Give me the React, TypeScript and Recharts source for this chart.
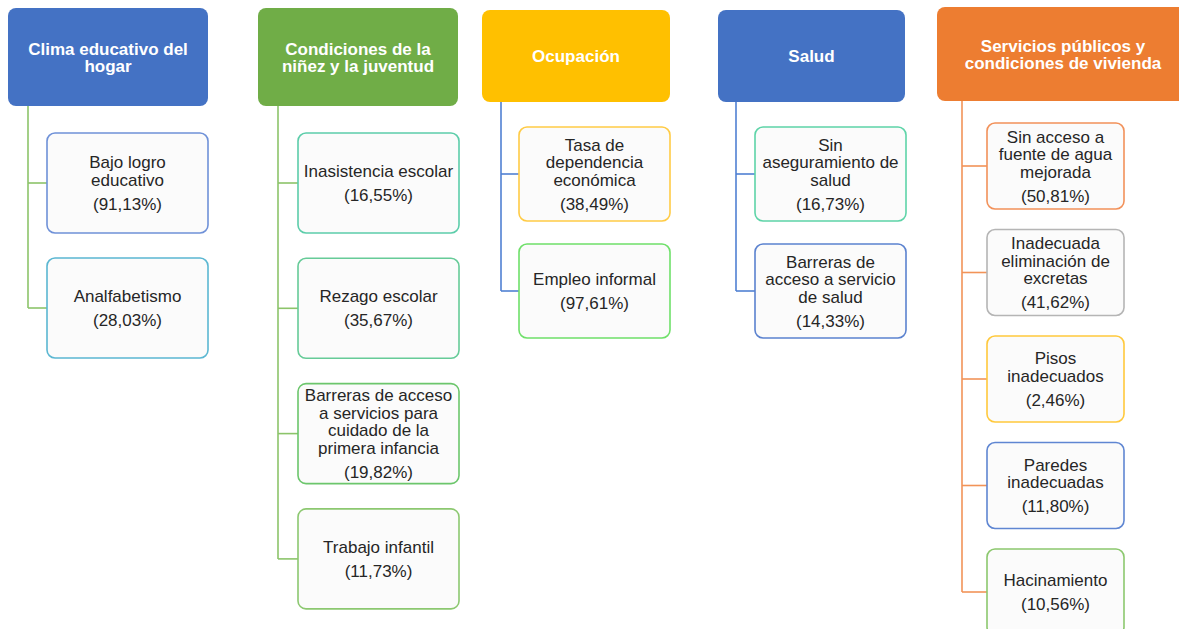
import { ReferenceLine, Scatter, ScatterChart, XAxis, YAxis } from "recharts";

const W = 1179;
const H = 629;

// groups (headers)
const groupTitles = [
  ["Clima educativo del", "hogar"],
  ["Condiciones de la", "niñez y la juventud"],
  ["Ocupación"],
  ["Salud"],
  ["Servicios públicos y", "condiciones de vivienda"],
];

// indicators per group, label lines split as in the picture
const climaLabels = ["Bajo logro\neducativo", "Analfabetismo"];
const climaValues = [91.13, 28.03];

const ninezLabels = [
  "Inasistencia escolar",
  "Rezago escolar",
  "Barreras de acceso\na servicios para\ncuidado de la\nprimera infancia",
  "Trabajo infantil",
];
const ninezValues = [16.55, 35.67, 19.82, 11.73];

const ocupacionLabels = ["Tasa de\ndependencia\neconómica", "Empleo informal"];
const ocupacionValues = [38.49, 97.61];

const saludLabels = ["Sin\naseguramiento de\nsalud", "Barreras de\nacceso a servicio\nde salud"];
const saludValues = [16.73, 14.33];

const serviciosLabels = [
  "Sin acceso a\nfuente de agua\nmejorada",
  "Inadecuada\neliminación de\nexcretas",
  "Pisos\ninadecuados",
  "Paredes\ninadecuadas",
  "Hacinamiento",
];
const serviciosValues = [50.81, 41.62, 2.46, 11.8, 10.56];

const groupLabels = [climaLabels, ninezLabels, ocupacionLabels, saludLabels, serviciosLabels];
const groupValues = [climaValues, ninezValues, ocupacionValues, saludValues, serviciosValues];

// styles
const headerColors = ["#4472C4", "#70AD47", "#FFC000", "#4472C4", "#ED7D31"];
const connectorColors = ["#8CC46A", "#8CC46A", "#5080D2", "#5080D2", "#F29358"];
const borderColors = [
  ["#6F91D8", "#5BB7D2"],
  ["#5CCDAA", "#66CB98", "#6CC66C", "#8CC870"],
  ["#FFCB45", "#6FE06A"],
  ["#5ED4A8", "#5B82CF"],
  ["#F2915A", "#B5B5B5", "#FFC93C", "#5F86D2", "#8CC86E"],
];

// layout (pixels == data units, axes run 0..W and 0..H)
const columns = [
  { left: 8, top: 8, width: 200, height: 98, spine: 28, cLeft: 47, cWidth: 161, cHeight: 100, cTop: 133, step: 125 },
  { left: 258, top: 8, width: 200, height: 98, spine: 278, cLeft: 298, cWidth: 161, cHeight: 100, cTop: 133, step: 125.3 },
  { left: 482, top: 10, width: 188, height: 92, spine: 501, cLeft: 519, cWidth: 151, cHeight: 94, cTop: 127, step: 117 },
  { left: 718, top: 10, width: 187, height: 92, spine: 736, cLeft: 755, cWidth: 151, cHeight: 94, cTop: 127, step: 117 },
  { left: 937, top: 7, width: 252, height: 94, spine: 962, cLeft: 987, cWidth: 137, cHeight: 86, cTop: 123, step: 106.5 },
];

const FONT = "'Liberation Sans', Arial, sans-serif";

const fmt = (v: number) => `(${v.toFixed(2).replace(".", ",")}%)`;

const nodes: any[] = [];
const segments: any[] = [];
columns.forEach((c, g) => {
  nodes.push({
    x: c.left + c.width / 2,
    y: c.top + c.height / 2,
    kind: "header",
    w: c.width,
    h: c.height,
    lines: groupTitles[g],
    fill: headerColors[g],
  });
  const n = groupLabels[g].length;
  groupLabels[g].forEach((label, i) => {
    const cy = c.cTop + i * c.step + c.cHeight / 2;
    nodes.push({
      x: c.cLeft + c.cWidth / 2,
      y: cy,
      kind: "child",
      w: c.cWidth,
      h: c.cHeight,
      lines: label.split("\n"),
      pct: fmt(groupValues[g][i]),
      stroke: borderColors[g][i],
    });
    segments.push({ from: { x: c.spine, y: cy }, to: { x: c.cLeft, y: cy }, color: connectorColors[g] });
  });
  const lastY = c.cTop + (n - 1) * c.step + c.cHeight / 2;
  segments.push({ from: { x: c.spine, y: c.top + c.height }, to: { x: c.spine, y: lastY }, color: connectorColors[g] });
});

function NodeShape(props: any) {
  const { cx, cy, payload } = props;
  const { w, h, lines } = payload;
  const x = cx - w / 2;
  const y = cy - h / 2;
  if (payload.kind === "header") {
    const lh = 17;
    const first = cy - ((lines.length - 1) * lh) / 2;
    return (
      <g>
        <rect x={x} y={y} width={w} height={h} rx={8} ry={8} fill={payload.fill} />
        <text textAnchor="middle" fill="#ffffff" fontFamily={FONT} fontSize={17} fontWeight="bold">
          {lines.map((l: string, i: number) => (
            <tspan key={i} x={cx} y={first + i * lh + 6}>
              {l}
            </tspan>
          ))}
        </text>
      </g>
    );
  }
  const lh = 17.5;
  const gap = 24;
  const block = (lines.length - 1) * lh + gap;
  const first = cy - block / 2;
  return (
    <g>
      <rect x={x} y={y} width={w} height={h} rx={8} ry={8} fill="#FBFBFB" stroke={payload.stroke} strokeWidth={1.6} />
      <text textAnchor="middle" fill="#262626" fontFamily={FONT} fontSize={17}>
        {lines.map((l: string, i: number) => (
          <tspan key={i} x={cx} y={first + i * lh + 6}>
            {l}
          </tspan>
        ))}
        <tspan x={cx} y={first + (lines.length - 1) * lh + gap + 6}>
          {payload.pct}
        </tspan>
      </text>
    </g>
  );
}

export default function App() {
  return (
    <div style={{ position: "absolute", left: 0, top: 0, width: W, height: H, background: "#ffffff" }}>
      <ScatterChart width={W} height={H} margin={{ top: 0, right: 0, bottom: 0, left: 0 }}>
        <XAxis type="number" dataKey="x" domain={[0, W]} hide />
        <YAxis type="number" dataKey="y" domain={[0, H]} reversed hide />
        {segments.map((s, i) => (
          <ReferenceLine
            key={i}
            segment={[s.from, s.to]}
            stroke={s.color}
            strokeWidth={1.6}
            ifOverflow="visible"
          />
        ))}
        <Scatter data={nodes} shape={NodeShape} isAnimationActive={false} />
      </ScatterChart>
    </div>
  );
}
